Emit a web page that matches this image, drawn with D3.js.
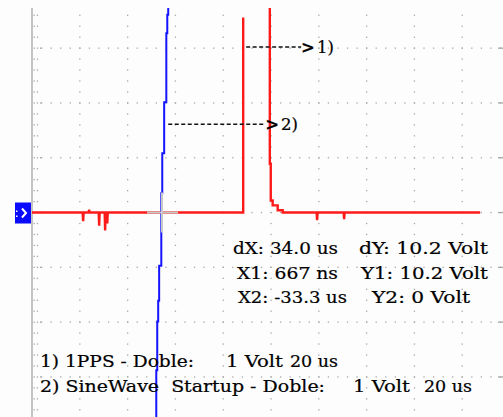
<!DOCTYPE html>
<html>
<head>
<meta charset="utf-8">
<script src="https://cdn.jsdelivr.net/npm/d3@7"></script>
<style>
  body { margin: 0; background: #fff; }
  svg { display: block; }
  text { font-family: "DejaVu Serif", "Liberation Serif", serif; font-size: 16.5px; fill: #000; stroke: #000; stroke-width: 0.2px; white-space: pre; }
</style>
</head>
<body>
<svg width="503" height="417"></svg>
<script>
// ---- data (time in us, voltage in Volt) ----
// channel 1: 1PPS pulse (red), NaN = trace leaves the screen
var redTime = [-87.7, -66.5, -66.3, -66.1, -64.0, -63.8, -63.6, -59.8, -59.6, -59.4, -57.3, -57.1, -56.9,
               -56.4, -56.2, -56.0, 0.67, 0.67, 0.67, 11.8, 11.8, 12.2, 12.2, 13.0, 13.0, 15.1, 15.1,
               17.2, 17.2, 31.4, 31.6, 31.8, 42.7, 42.9, 43.1, 99.8];
var redVolt = [0, 0, -0.16, 0, 0, 0.05, 0, 0, -0.24, 0, 0, -0.33, 0,
               0, -0.2, 0, 0, 3.56, NaN, 10.2, 0.89, 0.89, 0.22, 0.22, 0.13, 0.13, 0.04,
               0.04, 0, 0, -0.14, 0, 0, -0.12, 0, 0];
// channel 2: sine wave startup (blue)
var blueTime = [-35.7, -35.7, -35.3, -35.3, -34.9, -34.9, -34.5, -34.5, -33.6, -33.6, -33.2, -33.2,
                -32.4, -32.4, -31.5, -31.5, -31.1, -31.1, -30.7, -30.7, -30.3];
var blueVolt = [-3.9, -2.88, -2.88, -1.99, -1.99, -1.61, -1.61, -0.97, -0.97, 0.35, 0.35, 1.08,
                1.08, 2.01, 2.01, 3.27, 3.27, 3.61, 3.61, 3.72, 3.9];
// cursors
var cursorTime = [0.667, -33.3];
var cursorVolt = [10.2, 0];
// readouts and legend
var readoutLeft = ["dX: 34.0 us", "X1: 667 ns", "X2: -33.3 us"];
var readoutRight = ["dY: 10.2 Volt", "Y1: 10.2 Volt", "Y2: 0 Volt"];
var legendName = ["1) 1PPS - Doble:", "2) SineWave  Startup - Doble:"];
var legendVolt = ["1 Volt", "1 Volt"];
var legendTime = ["20 us", "20 us"];
// trace annotations: arrow from (tStart, volt) to tEnd
var arrowLabel = [">1)", ">2)"];
var arrowStart = [1.9, -30.7];
var arrowEnd = [24.9, 9.9];
var arrowVolt = [3.02, 1.61];

// ---- layout ----
var svg = d3.select("svg"),
    plot = {left: 32, right: 510, top: 8, bottom: 417},
    yMid = 212.5, divH = 54.8;

var x = d3.scaleLinear().domain([-87.7, 112.3]).range([plot.left, plot.right]),
    y = d3.scaleLinear().domain([-4, 4]).range([yMid + 4 * divH, yMid - 4 * divH]);

svg.append("rect").attr("width", 503).attr("height", 417).attr("fill", "#fdfdfd");

svg.append("clipPath").attr("id", "clip")
  .append("rect")
    .attr("x", plot.left).attr("y", plot.top)
    .attr("width", 503 - plot.left).attr("height", plot.bottom - plot.top);

var grid = svg.append("g").attr("clip-path", "url(#clip)").attr("fill", "#a8a8a8");

// dotted grid: 10 x 8 divisions, 5 sub-steps each
var xDiv = d3.range(0, 11).map(function(i) { return x.domain()[0] + i * 20; }),
    yDiv = d3.range(-4, 5);
var xSub = d3.range(0, 51).map(function(i) { return x.domain()[0] + i * 4; }),
    ySub = d3.range(0, 41).map(function(i) { return -4 + i * 0.2; });

// major rows
yDiv.forEach(function(v) {
  xSub.slice(1).forEach(function(t) {
    grid.append("rect").attr("x", x(t) - 0.6).attr("y", y(v) - 0.6).attr("width", 1.3).attr("height", 1.3);
  });
  grid.append("rect").attr("x", 40).attr("y", y(v) - 0.6).attr("width", 1.3).attr("height", 1.3);
  // right edge tick
  grid.append("rect").attr("x", 498).attr("y", y(v) - 0.6).attr("width", 5).attr("height", 1.3);
});
// major columns
xDiv.slice(1).forEach(function(t) {
  ySub.forEach(function(v) {
    grid.append("rect").attr("x", x(t) - 0.6).attr("y", y(v) - 0.6).attr("width", 1.3).attr("height", 1.3);
  });
});
// left edge ticks
ySub.forEach(function(v) {
  [33.5, 36.8].forEach(function(px) {
    grid.append("rect").attr("x", px).attr("y", y(v) - 0.6).attr("width", 1.3).attr("height", 1.3);
  });
});

// left axis line
svg.append("line")
    .attr("x1", plot.left).attr("x2", plot.left)
    .attr("y1", plot.top).attr("y2", plot.bottom)
    .attr("stroke", "#c4c4c4").attr("stroke-width", 2);

// ground marker for the traces
var marker = svg.append("g").attr("transform", "translate(0," + y(0) + ")");
marker.append("rect").attr("x", 15).attr("y", -10).attr("width", 16).attr("height", 21).attr("fill", "#0a0aff");
marker.append("path").attr("d", "M22,-4 L26,0.5 L22,5").attr("fill", "none").attr("stroke", "#fff").attr("stroke-width", 2);
marker.append("rect").attr("x", 16).attr("y", -2).attr("width", 1.5).attr("height", 1.5).attr("fill", "#fff");
marker.append("rect").attr("x", 16).attr("y", 3).attr("width", 1.5).attr("height", 1.5).attr("fill", "#fff");

// traces
var line = d3.line()
    .defined(function(d) { return !isNaN(d.v); })
    .x(function(d) { return x(d.t); })
    .y(function(d) { return y(d.v); });

var traces = svg.append("g").attr("clip-path", "url(#clip)");

traces.append("path")
    .datum(redTime.map(function(t, i) { return {t: t, v: redVolt[i]}; }))
    .attr("d", line)
    .attr("fill", "none")
    .attr("stroke", "#ff1a1a")
    .attr("stroke-width", 2.4);

traces.append("path")
    .datum(blueTime.map(function(t, i) { return {t: t, v: blueVolt[i]}; }))
    .attr("d", line)
    .attr("fill", "none")
    .attr("stroke", "#1414ff")
    .attr("stroke-width", 2);

// cursor crosshairs
cursorTime.forEach(function(t, i) {
  var cx = x(t), cy = y(cursorVolt[i]);
  traces.append("line").attr("x1", cx).attr("x2", cx).attr("y1", cy - 20).attr("y2", cy + 20)
      .attr("stroke", "#c8c8c8").attr("stroke-width", 2);
  traces.append("line").attr("x1", cx - 15).attr("x2", cx + 16).attr("y1", cy).attr("y2", cy)
      .attr("stroke", "#c8c8c8").attr("stroke-width", 2);
});

// annotations
arrowLabel.forEach(function(lab, i) {
  var ay = y(arrowVolt[i]);
  svg.append("line")
      .attr("x1", x(arrowStart[i])).attr("x2", x(arrowEnd[i]))
      .attr("y1", ay).attr("y2", ay)
      .attr("stroke", "#111").attr("stroke-width", 1.6)
      .attr("stroke-dasharray", "4,2.5");
  var tx = svg.append("text").attr("x", x(arrowEnd[i])).attr("y", ay + 6);
  tx.append("tspan").attr("font-weight", "bold").text(lab.charAt(0));
  tx.append("tspan").attr("dx", 2).text(lab.slice(1));
});

// cursor readouts
function put(str, px, py, w) {
  svg.append("text").attr("x", px).attr("y", py)
      .attr("textLength", w).attr("lengthAdjust", "spacingAndGlyphs")
      .text(str);
}
var rowY = [254, 278.5, 303];
var leftX = [233, 237, 238], leftW = [105, 101, 109];
var rightX = [359, 361, 372], rightW = [129, 127, 98];
readoutLeft.forEach(function(s, i) { put(s, leftX[i], rowY[i], leftW[i]); });
readoutRight.forEach(function(s, i) { put(s, rightX[i], rowY[i], rightW[i]); });

// legend
var legY = [367, 392];
var nameW = [154, 285], voltX = [226, 353], timeX = [290, 424];
legendName.forEach(function(s, i) {
  put(s, 40, legY[i], nameW[i]);
  put(legendVolt[i], voltX[i], legY[i], 57);
  put(legendTime[i], timeX[i], legY[i], 48);
});
</script>
</body>
</html>
